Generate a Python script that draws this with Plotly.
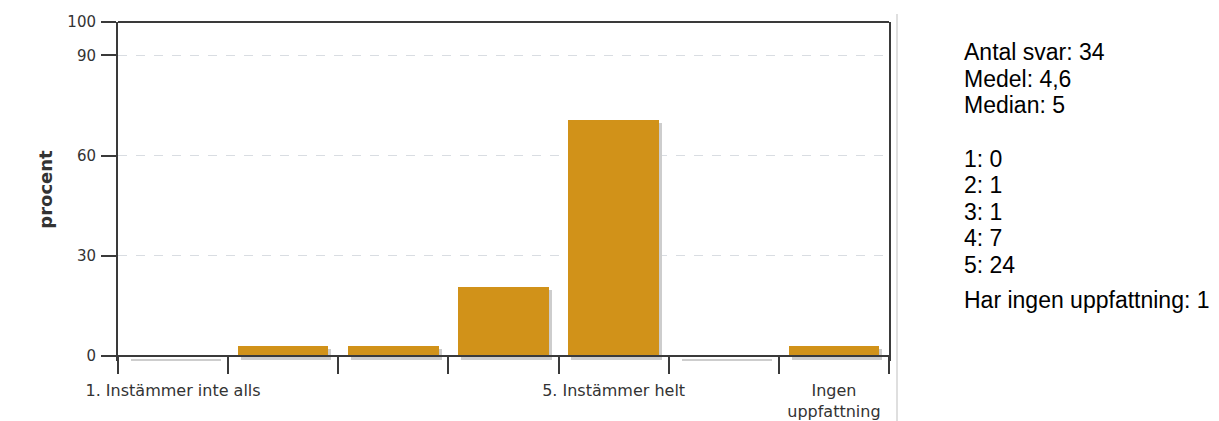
import plotly.graph_objects as go

# ---- data ----
categories = ["1. Instämmer inte alls", " ", "  ", "   ", "5. Instämmer helt", "    ", "Ingen<br>uppfattning"]
percent = [0.0, 2.9, 2.9, 20.6, 70.6, 0.0, 2.9]
y_ticks = [0, 30, 60, 90, 100]
stat_labels = ["Antal svar", "Medel", "Median"]
stat_values = ["34", "4,6", "5"]
count_labels = ["1", "2", "3", "4", "5"]
count_values = [0, 1, 1, 7, 24]
no_opinion_label = "Har ingen uppfattning"
no_opinion_count = 1

BAR = "#D19219"
SHADOW = "#cdcdcd"
AX = "#3a3a3a"

OFF = 8  # page body margin
W, H = 1219 - OFF, 421 - OFF
Y_MIN = -1.5
ml, mr, mt, mb = 110, 330, 14, 59.5
plot_w = W - ml - mr
plot_h = H - mt - mb
px_x = len(categories) / plot_w              # category units per pixel
px_y = (100.0 - Y_MIN) / plot_h              # y units per pixel


def sx(x):  # screen x -> paper x
    return (x - OFF - ml) / plot_w


def sy(y):  # screen y -> paper y
    return 1 - (y - OFF - mt) / plot_h


bw = 0.82
sh = 3  # shadow offset in px
thin = 0.35

fig = go.Figure()
# shadow
fig.add_trace(go.Bar(
    x=categories, y=[v + thin for v in percent], base=-sh * px_y - thin,
    width=bw, offset=-bw / 2 + sh * px_x,
    marker=dict(color=SHADOW, line=dict(width=0)),
    hoverinfo="skip", showlegend=False,
))
# bars
fig.add_trace(go.Bar(
    x=categories, y=percent, width=bw, offset=-bw / 2,
    marker=dict(color=BAR, line=dict(width=0)),
    showlegend=False,
))

txt_font = dict(family="Liberation Sans, Arial", size=23, color="#000")
lines = [f"{l}: {v}" for l, v in zip(stat_labels, stat_values)]
for i, t in enumerate(lines):
    fig.add_annotation(xref="paper", yref="paper", x=sx(962), y=sy(52.5 + 26.5 * i),
                       xanchor="left", yanchor="middle", showarrow=False, text=t, font=txt_font)
clines = [f"{l}: {v}" for l, v in zip(count_labels, count_values)]
for i, t in enumerate(clines):
    fig.add_annotation(xref="paper", yref="paper", x=sx(962), y=sy(159 + 26.5 * i),
                       xanchor="left", yanchor="middle", showarrow=False, text=t, font=txt_font)
fig.add_annotation(xref="paper", yref="paper", x=sx(962), y=sy(300),
                   xanchor="left", yanchor="middle", showarrow=False,
                   text=f"{no_opinion_label}: {no_opinion_count}", font=txt_font)

# y axis title
fig.add_annotation(
    xref="paper", yref="paper", x=sx(46), y=sy(190),
    xanchor="center", yanchor="middle", showarrow=False, textangle=-90,
    text="<b>procent</b>", font=dict(family="DejaVu Sans", size=18, color="#333"),
)
# top frame line
fig.add_shape(type="line", xref="paper", yref="paper", x0=0, x1=1, y0=1, y1=1,
              line=dict(color=AX, width=2))
# separator line
fig.add_shape(type="line", xref="paper", yref="paper",
              x0=sx(897), x1=sx(897), y0=sy(430), y1=sy(14),
              line=dict(color="#d4d4d4", width=1.5))

fig.update_layout(
    width=W, height=H, margin=dict(l=ml, r=mr, t=mt, b=mb, pad=0, autoexpand=False),
    paper_bgcolor="white", plot_bgcolor="white",
    barmode="overlay", bargap=0,
    font=dict(family="DejaVu Sans", size=15, color="#333"),
)
fig.update_xaxes(
    type="category", categoryorder="array", categoryarray=categories,
    range=[-0.5, len(categories) - 0.5],
    anchor="free", position=(0 - Y_MIN) / (100 - Y_MIN),
    tickson="boundaries", ticks="outside", ticklen=17, tickwidth=2, tickcolor=AX,
    showline=True, linecolor=AX, linewidth=2, mirror=False,
    showgrid=False, tickangle=0, automargin=False,
    tickfont=dict(family="DejaVu Sans", size=16, color="#333"),
    ticklabelstandoff=20,
)
fig.update_yaxes(
    range=[Y_MIN, 100], tickvals=y_ticks, ticktext=[str(t) for t in y_ticks],
    ticks="outside", ticklen=15, tickwidth=2, tickcolor=AX,
    showline=True, linecolor=AX, linewidth=2, mirror=True,
    showgrid=True, gridcolor="#d9dde2", griddash="dash", gridwidth=1,
    zeroline=False, automargin=False,
    tickfont=dict(family="DejaVu Sans", size=15, color="#333"),
    ticklabelstandoff=2,
)
fig.write_html("out.html")
